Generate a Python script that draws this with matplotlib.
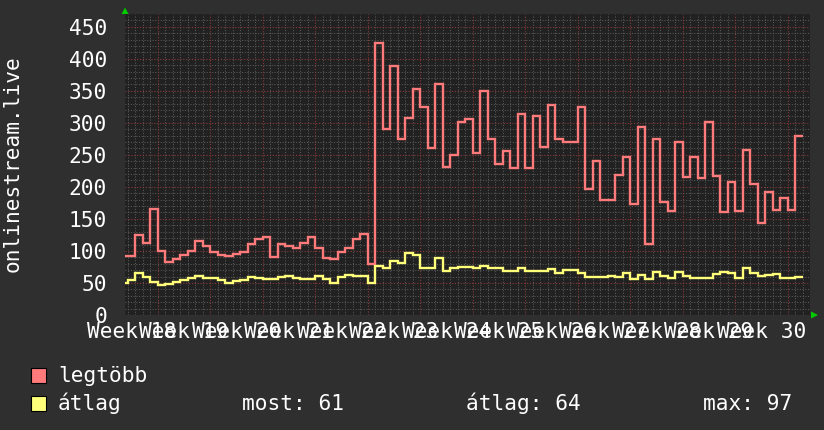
import matplotlib
matplotlib.use('Agg')
import matplotlib.pyplot as plt
import numpy as np
from matplotlib.patches import Polygon, Rectangle

# ---- data (one value per day; day 0 = start of Week 18 grid line) ----
first_day = -5
legtobb = [92, 92, 125, 113, 165,
           100, 83, 88, 94, 100, 116, 108,
           99, 94, 92, 95, 98, 111, 118,
           121, 91, 111, 107, 104, 113, 122,
           104, 89, 88, 99, 104, 118, 126,
           80, 425, 290, 388, 274, 308, 353,
           324, 260, 361, 231, 250, 302, 306,
           253, 349, 275, 236, 256, 230, 314,
           230, 311, 263, 328, 274, 270, 270,
           325, 196, 241, 180, 180, 218, 246,
           173, 294, 111, 275, 176, 163, 270,
           216, 247, 214, 301, 217, 161, 208,
           163, 258, 204, 144, 192, 164, 183,
           164, 280]
atlag = [50, 55, 66, 59, 51,
         47, 48, 51, 54, 57, 61, 57,
         57, 55, 50, 53, 55, 59, 57,
         56, 56, 59, 61, 57, 56, 56,
         61, 56, 50, 59, 62, 61, 61,
         50, 76, 74, 84, 81, 97, 93,
         74, 74, 89, 69, 74, 75, 75,
         73, 77, 74, 73, 69, 69, 74,
         69, 68, 69, 72, 66, 70, 71,
         66, 59, 60, 60, 61, 60, 65,
         56, 62, 56, 67, 61, 58, 67,
         61, 57, 57, 58, 64, 67, 65,
         57, 74, 66, 61, 62, 64, 57,
         57, 60]
week_numbers = [18, 19, 20, 21, 22, 23, 24, 25, 26, 27, 28, 29, 30]
y_ticks = [0, 50, 100, 150, 200, 250, 300, 350, 400, 450]
y_label = "onlinestream.live"
legend_names = ["legtöbb", "átlag"]
stats = ["most: 61", "átlag: 64", "max: 97"]

W, H = 824, 430
BG = '#2f2f2f'
PLOT_BG = '#212121'
RED = '#ff7b7b'
YEL = '#ffff7a'
FONT = 'DejaVu Sans Mono'
FS = 15.2

plt.rcParams['font.family'] = [FONT, 'DejaVu Sans']

fig = plt.figure(figsize=(W / 100, H / 100), dpi=100, facecolor=BG)

def fx(px):
    return px / W

def fy(py):
    return 1 - py / H

x_left, x_right = 125, 809.5
y_top, y_bot = 14, 315
ax = fig.add_axes([fx(x_left), fy(y_bot), fx(x_right - x_left), (y_bot - y_top) / H])
ax.set_facecolor(PLOT_BG)

px_per_day = 7.5
tick0_px = 157.5
xmin = (x_left - tick0_px) / px_per_day
xmax = (x_right - tick0_px) / px_per_day
px_per_unit = 288.3 / 450
ymax = (y_bot - y_top) / px_per_unit
ax.set_xlim(xmin, xmax)
ax.set_ylim(0, ymax)

# grid
for d in range(int(np.floor(xmin)), int(np.ceil(xmax)) + 1):
    if d % 7 == 0:
        continue
    ax.axvline(d, color='#5a5a5a', lw=0.75, ls=(0, (1, 1.6)), zorder=1)
for v in range(10, int(ymax) + 1, 10):
    if v % 50 == 0:
        continue
    ax.axhline(v, color='#5a5a5a', lw=0.75, ls=(0, (1, 1.6)), zorder=1)
for k in range(len(week_numbers)):
    ax.axvline(7 * k, color='#8a3c3c', lw=0.8, ls=(0, (1, 1.6)), zorder=1.5)
for v in y_ticks:
    ax.axhline(v, color='#8a3c3c', lw=0.8, ls=(0, (1, 1.6)), zorder=1.5)

edges = np.arange(len(legtobb) + 1) + first_day
ax.stairs(legtobb, edges, baseline=None, color=RED, lw=1.7, zorder=3)
ax.stairs(atlag, edges, baseline=None, color=YEL, lw=1.7, zorder=3)

for s in ax.spines.values():
    s.set_visible(False)
ax.set_xticks([])
ax.set_yticks(y_ticks)
ax.set_yticklabels([str(v) for v in y_ticks], fontsize=FS, color='white', family=FONT)
ax.tick_params(axis='y', length=0, pad=13)

# x labels (centered half a week before each grid line)
tr = ax.get_xaxis_transform()
for k, n in enumerate(week_numbers):
    ax.text(7 * k - 3.5, -(338 - y_bot) / (y_bot - y_top), f"Week {n}", transform=tr,
            ha='center', va='baseline', fontsize=FS, color='white', family=FONT,
            clip_on=False)

# y axis title
fig.text(fx(13), fy(164), y_label, rotation=90, ha='center', va='center',
         fontsize=FS, color='white', family=FONT)

# arrows
fig.patches.append(Polygon([(fx(121.5), fy(14)), (fx(128.5), fy(14)), (fx(125), fy(7.5))],
                           closed=True, facecolor='#00cc00', edgecolor='none',
                           transform=fig.transFigure, figure=fig))
fig.patches.append(Polygon([(fx(811), fy(311.5)), (fx(811), fy(318.5)), (fx(818), fy(315))],
                           closed=True, facecolor='#00cc00', edgecolor='none',
                           transform=fig.transFigure, figure=fig))

# legend
for i, (name, col) in enumerate(zip(legend_names, [RED, YEL])):
    yc = 375 + 28 * i
    fig.patches.append(Rectangle((fx(31.5), fy(yc + 7.5)), 15 / W, 15 / H,
                                 facecolor=col, edgecolor='black', lw=0.8,
                                 transform=fig.transFigure, figure=fig))
    fig.text(fx(58), fy(yc + 7), name, ha='left', va='baseline',
             fontsize=FS, color='white', family=FONT)

for xs, s in zip([242, 466, 703], stats):
    fig.text(fx(xs), fy(410), s, ha='left', va='baseline',
             fontsize=FS, color='white', family=FONT)

fig.savefig('out.png', dpi=100, facecolor=BG)
